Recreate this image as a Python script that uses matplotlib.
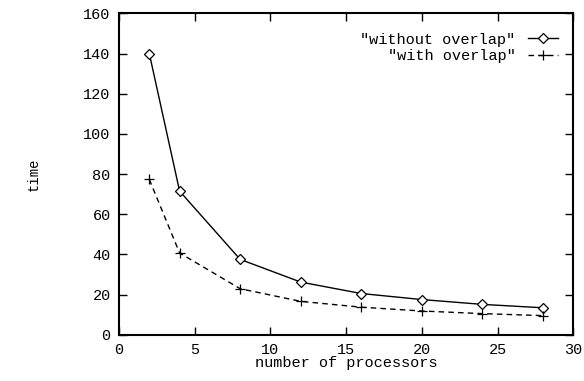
import numpy as np
import matplotlib.pyplot as plt

plt.rcParams['font.family'] = ['Liberation Mono', 'DejaVu Sans Mono']

# processors vs time
procs = [2, 4, 8, 12, 16, 20, 24, 28]
t_without = [140, 71.5, 37.5, 26.2, 20.5, 17.5, 15.1, 13.4]
t_with = [77.3, 40.7, 22.9, 16.6, 13.7, 11.8, 10.5, 9.5]

fig = plt.figure(figsize=(5.84, 3.81), dpi=100)
ax = fig.add_axes([0.2038, 0.1215, 0.7779, 0.8435])

ax.plot(procs, t_without, color='black', lw=1, marker='D', ms=5,
        mfc='white', mec='black', mew=0.9, label='"without overlap"')
ax.plot(procs, t_with, color='black', lw=1, ls=(0, (4, 3)), marker='+',
        ms=7, mew=0.9, label='"with overlap"')

ax.set_xlim(0, 30)
ax.set_ylim(0, 160)
ax.set_xticks(np.arange(0, 31, 5))
ax.set_yticks(np.arange(0, 161, 20))
ax.tick_params(direction='in', length=6, width=1, top=True, right=True,
               labelsize=11, pad=6)
for s in ax.spines.values():
    s.set_linewidth(1.5)

ax.set_xlabel('number of processors', fontsize=11, labelpad=-1)
ax.set_ylabel('time', fontsize=10, labelpad=31)

leg = ax.legend(loc='upper right', bbox_to_anchor=(1.007, 0.997),
                markerfirst=False, frameon=False,
                fontsize=11, handlelength=2.0, handletextpad=0.8,
                labelspacing=0.15, borderaxespad=0.8)
for t in leg.get_texts():
    t.set_ha('right')
leg._legend_box.align = 'right'

fig.savefig('out.png', dpi=100)
